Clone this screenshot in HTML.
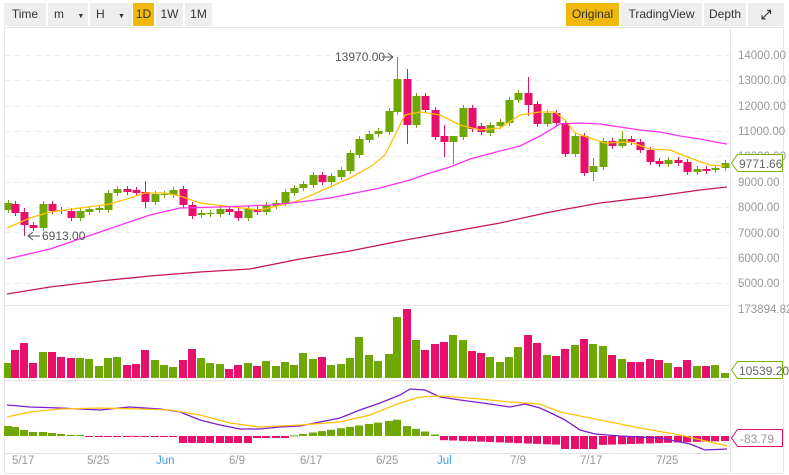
<!DOCTYPE html>
<html><head><meta charset="utf-8"><style>
body{margin:0;width:789px;height:475px;overflow:hidden;background:#fff;font-family:"Liberation Sans",sans-serif}
.tb{position:absolute;top:3px;height:23px;font-family:"Liberation Sans Narrow","Liberation Sans",sans-serif;font-size:12px;color:#333;line-height:23px}
.b{position:absolute;top:0;height:23px;background:#eee;text-align:center}
.y{background:#f0b90b}
</style></head><body>
<div class="tb" style="left:4px;width:780px">
<div class="b" style="left:0;width:42px">Time</div>
<div class="b" style="left:44px;width:40px;text-align:left;padding-left:6px;box-sizing:border-box">m <span style="font-size:7px;margin-left:10px">▼</span></div>
<div class="b" style="left:86px;width:42px;text-align:left;padding-left:6px;box-sizing:border-box">H <span style="font-size:7px;margin-left:10px">▼</span></div>
<div class="b y" style="left:129px;width:21px">1D</div>
<div class="b" style="left:152px;width:27px">1W</div>
<div class="b" style="left:181px;width:27px">1M</div>
<div class="b y" style="left:562px;width:53px">Original</div>
<div class="b" style="left:617px;width:81px">TradingView</div>
<div class="b" style="left:700px;width:42px">Depth</div>
<div class="b" style="left:744px;width:36px;font-size:13px;font-weight:bold">⤢</div>
</div>
<svg id="s" width="789" height="475" style="position:absolute;left:0;top:0" font-family="Liberation Sans, sans-serif">
<rect x="4.5" y="27.5" width="779" height="446" fill="none" stroke="#e6e6e6"/>
<line x1="730.5" y1="28" x2="730.5" y2="473" stroke="#e6e6e6"/>
<line x1="5" y1="305.5" x2="730" y2="305.5" stroke="#e6e6e6"/>
<line x1="5" y1="380.5" x2="730" y2="380.5" stroke="#e6e6e6"/>
<line x1="5" y1="453.5" x2="730" y2="453.5" stroke="#e6e6e6"/>
<g id="grid" stroke="#eee" stroke-dasharray="6,4"></g>
<g font-size="11.5" fill="#999">
<text x="738" y="59">14000.00</text><text x="738" y="84">13000.00</text><text x="738" y="110">12000.00</text><text x="738" y="135">11000.00</text><text x="738" y="160">10000.00</text><text x="738" y="186">9000.00</text><text x="738" y="211">8000.00</text><text x="738" y="237">7000.00</text><text x="738" y="262">6000.00</text><text x="738" y="287">5000.00</text>
<text x="738" y="313">173894.82</text><text x="738" y="438">0.00</text>
<text x="12" y="464">5/17</text><text x="87" y="464">5/25</text><text x="156" y="464" fill="#3a9ee0">Jun</text><text x="229" y="464">6/9</text><text x="300" y="464">6/17</text><text x="376" y="464">6/25</text><text x="437" y="464" fill="#3a9ee0">Jul</text><text x="510" y="464">7/9</text><text x="580" y="464">7/17</text><text x="656" y="464">7/25</text>
</g>
<g id="c"></g>
<polyline fill="none" stroke="#ffc107" stroke-width="1.3" points="7,228 30,218 50,212 80,208 110,204 130,198 145,193 165,193 180,196 200,203 233,207 260,210 290,203 300,200 330,187 350,178 370,167 385,155 395,135 405,115 420,112 440,115 460,125 480,130 500,128 520,115 540,112 555,112 565,120 575,133 590,138 605,143 630,142 650,149 670,150 690,158 710,165 725,166"/>
<polyline fill="none" stroke="#ff2ff0" stroke-width="1.3" points="7,259 50,249 100,232 150,215 180,208 220,207 270,205 300,202 330,198 360,192 380,188 410,180 430,173 450,167 470,159 500,151 520,146 540,136 560,124 580,123 600,124 620,127 640,130 660,132 680,136 700,139 715,142 727,144"/>
<polyline fill="none" stroke="#c2185b" stroke-width="1.3" points="7,294 50,287 100,281 150,276 200,272 250,269 300,259 350,251 400,241 450,232 500,223 550,212 600,203 650,197 700,190 727,187"/>
<polyline fill="none" stroke="#7b1fd0" stroke-width="1.3" points="7,405 30,407 60,408 100,410 130,407 160,409 180,412 200,420 220,425 240,429 260,429 280,427 300,426 320,422 340,418 360,410 380,403 400,395 410,389 425,390 440,397 460,400 490,404 510,407 525,404 540,408 555,415 565,420 580,430 595,434 620,436 660,438 690,444 705,450 727,449"/>
<polyline fill="none" stroke="#ffc107" stroke-width="1.3" points="7,417 30,412 60,409 100,408 140,409 170,410 200,415 230,423 260,427 300,425 340,422 370,415 400,403 420,397 440,396 480,399 510,402 540,404 560,412 600,420 640,428 680,435 727,446"/>
<g font-size="12" fill="#555">
<text x="335" y="61">13970.00</text>
<path d="M382,57 H393 M388,53 L393,57 L388,61" stroke="#555" fill="none"/>
<text x="42" y="240">6913.00</text>
<path d="M40,236 H28 M33,232 L28,236 L33,240" stroke="#555" fill="none"/>
</g>
<g font-size="12">
<path d="M737.5,154.5 H782.5 V171.5 H737.5 L731.5,163 Z" fill="#fff" stroke="#7cb305"/><text x="739" y="168" fill="#666">9771.66</text>
<path d="M737.5,361.5 H782.5 V378.5 H737.5 L731.5,370 Z" fill="#fff" stroke="#7cb305"/><text x="739" y="375" fill="#666">10539.20</text>
<path d="M737.5,429.5 H782.5 V446.5 H737.5 L731.5,438 Z" fill="#fff" stroke="#e8106a"/><text x="740" y="443" fill="#999">-83.79</text>
</g>
</svg>
<script>
const G='#6fa805',R='#e8106a',ns='http://www.w3.org/2000/svg';
const c=document.getElementById('c'),g=document.getElementById('grid');
function el(t,a,p){const e=document.createElementNS(ns,t);for(const k in a)e.setAttribute(k,a[k]);(p||c).appendChild(e);}
[55,80,106,131,156,182,207,232,258,283].forEach(y=>el('line',{x1:5,x2:730,y1:y+.5,y2:y+.5},g));
const K=[[8,203,210,'g'],[15,204,213,'r'],[24,212,225,'r',208,236],[33,225,228,'r'],[43,204,228,'g'],[52,204,211,'r'],[61,210,211,'r'],[71,211,218,'r'],[80,211,218,'g'],[89,209,212,'g'],[99,208,210,'g'],[108,193,210,'g'],[117,189,193,'g'],[127,189,192,'r'],[136,190,193,'r'],[145,192,202,'r',181,208],[155,194,202,'g'],[164,194,195,'g'],[173,190,195,'g'],[183,189,205,'r'],[192,205,216,'r'],[201,213,215,'g'],[210,213,214,'g'],[220,209,214,'g'],[229,209,212,'r'],[238,211,218,'r'],[248,209,218,'g'],[257,209,212,'r'],[266,205,212,'g'],[276,203,206,'g'],[285,192,203,'g'],[294,188,193,'g'],
[303,184,188,'g'],[313,175,185,'g'],[322,175,182,'r'],[331,176,182,'g'],[341,170,177,'g'],[350,153,171,'g'],[359,139,155,'g'],[369,134,140,'g'],[378,131,134,'g'],[389,111,132,'g'],[397,79,112,'g',57,115],[407,79,125,'r',69,144],[416,96,125,'g'],[425,96,110,'r'],[435,110,137,'r'],[444,136,142,'r',125,157],[453,136,142,'g',136,164],[463,108,137,'g'],[472,108,129,'r'],[481,126,132,'r'],[490,125,133,'g'],[500,122,126,'g'],[509,100,123,'g'],[518,93,100,'g'],[528,93,105,'r',77,116],[537,104,124,'r'],[547,113,124,'g'],[556,113,123,'r'],
[565,123,154,'r'],[575,136,154,'g'],[584,136,173,'r'],[593,166,172,'g',158,181],[603,141,167,'g'],[612,141,146,'r'],[622,139,146,'g',131,148],[631,139,142,'r'],[640,142,150,'r'],[650,150,162,'r'],[659,161,164,'r'],[668,160,164,'g'],[678,160,163,'r'],[687,162,172,'r'],[697,169,172,'g'],[706,169,171,'r'],[715,168,170,'g'],[725,163,168,'g']];
const V={8:363,15:350,24:343,33:363,43:352,52:352,61:357,71:358,80:358,89:359,99:366,108:358,117:357,127:365,136:364,145:350,155:360,164:365,173:367,183:360,192:349,201:358,210:363,220:364,229:369,238:365,248:363,257:366,266:361,276:366,285:362,294:365,303:353,313:359,322:357,331:365,341:364,350:358,359:337,369:355,378:361,389:354,397:317,407:309,416:340,425:350,435:344,444:342,453:335,463:340,472:351,481:353,490:357,500:362,509:357,518:347,528:335,537:343,547:355,556:356,565:349,575:345,584:339,593:344,603:346,612:355,622:359,631:362,640:362,650:359,659:360,668:363,678:367,687:360,697:366,706:366,715:365,725:373};
K.forEach(k=>{const [x,t,b,cl,h,l]=k,col=cl=='g'?G:R;
el('line',{x1:x+.5,x2:x+.5,y1:h||t-3,y2:l||b+3,stroke:col});
el('rect',{x:x-3.5,y:t,width:8,height:Math.max(1,b-t),fill:col});
el('rect',{x:x-4,y:V[x],width:8,height:378-V[x],fill:col});});
K.forEach(k=>{const x=k[0];let v;
if(x<90)v=[426,427,430,432,432,433,434,435,435,436][Math.round((x-8)/9.3)]||436;
else if(x<180)v=437;else if(x<250)v=443;else if(x<290)v=438;
else if(x<440)v=Math.min(436,436-(x-290)/105*16);
else if(x<565)v=440+(x-440)/125*5;else if(x<600)v=449;else v=445-(x-600)/125*4;
if(x>400&&x<440)v=424+(x-400)/40*12;
const col=v<436?G:R;el('rect',{x:x-4,y:Math.min(v,436),width:8,height:Math.max(1,Math.abs(v-436)),fill:col});});
</script>
</body></html>
